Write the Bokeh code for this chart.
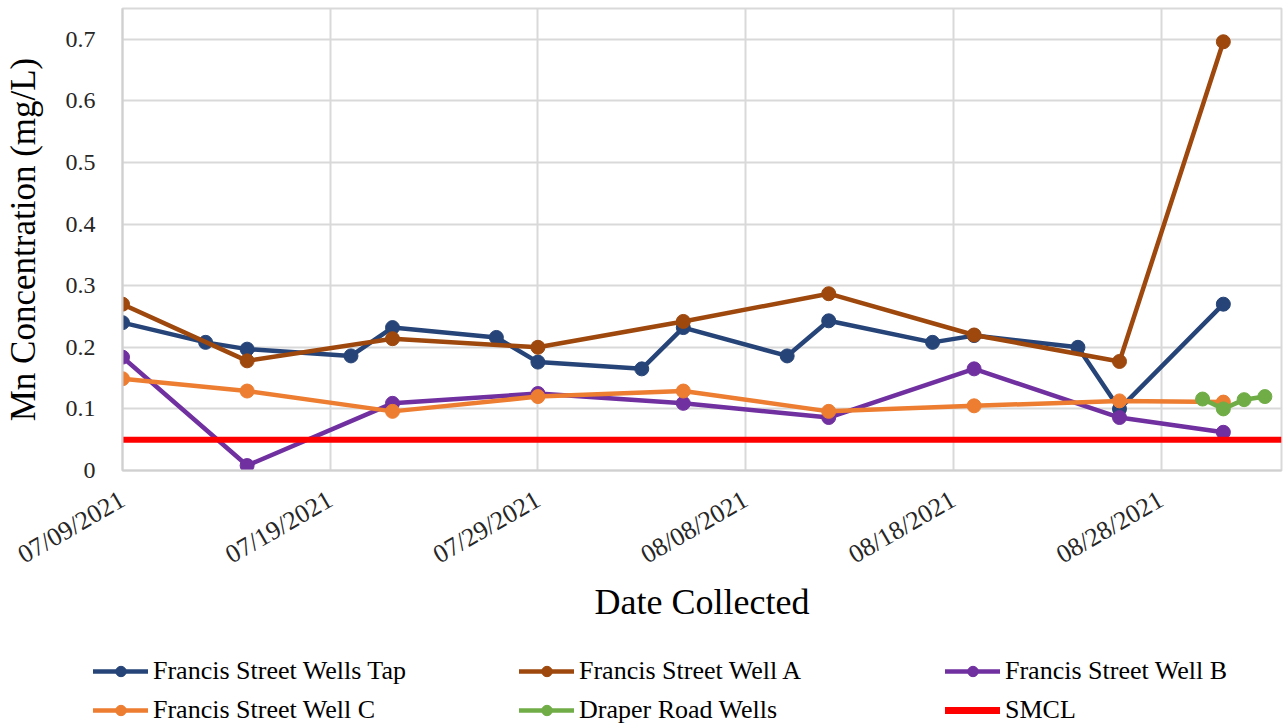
import math
from datetime import datetime, timedelta
import pandas as pd
from bokeh.plotting import figure
from bokeh.layouts import column, row
from bokeh.models import (Range1d, FixedTicker, DatetimeTickFormatter, Legend,
                          LegendItem, ColumnDataSource)
from bokeh.embed import file_html
from bokeh.resources import INLINE

# ---------------- data ----------------
tap_dates = ["2021-07-09", "2021-07-13", "2021-07-15", "2021-07-20", "2021-07-22",
             "2021-07-27", "2021-07-29", "2021-08-03", "2021-08-05", "2021-08-10",
             "2021-08-12", "2021-08-17", "2021-08-19", "2021-08-24", "2021-08-26",
             "2021-08-31"]
tap_vals = [0.240, 0.208, 0.197, 0.186, 0.232, 0.216, 0.176, 0.165, 0.232, 0.186,
            0.243, 0.208, 0.219, 0.200, 0.100, 0.270]

well_dates = ["2021-07-09", "2021-07-15", "2021-07-22", "2021-07-29", "2021-08-05",
              "2021-08-12", "2021-08-19", "2021-08-26", "2021-08-31"]
well_a_vals = [0.270, 0.178, 0.214, 0.200, 0.242, 0.287, 0.220, 0.177, 0.696]
well_b_vals = [0.184, 0.008, 0.109, 0.125, 0.109, 0.086, 0.165, 0.086, 0.062]
well_c_vals = [0.149, 0.129, 0.096, 0.120, 0.129, 0.096, 0.105, 0.113, 0.111]

draper_dates = ["2021-08-30", "2021-08-31", "2021-09-01", "2021-09-02"]
draper_vals = [0.116, 0.100, 0.115, 0.120]

smcl_value = 0.05

x_tick_dates = ["2021-07-09", "2021-07-19", "2021-07-29", "2021-08-08",
                "2021-08-18", "2021-08-28"]
y_ticks = [0, 0.1, 0.2, 0.3, 0.4, 0.5, 0.6, 0.7]

series_names = ["Francis Street Wells Tap", "Francis Street Well A",
                "Francis Street Well B", "Francis Street Well C",
                "Draper Road Wells", "SMCL"]
colors = ["#264478", "#9E480E", "#7030A0", "#ED7D31", "#70AD47", "#FF0000"]

FONT = "Liberation Serif"
W = 1283
H_MAIN = 635
H_LEG = 88

# ---------------- main figure ----------------
x_start = datetime(2021, 7, 9)
x_end = x_start + timedelta(days=55.8)

p = figure(width=W, height=H_MAIN, x_axis_type="datetime",
           x_range=Range1d(x_start, x_end), y_range=Range1d(0, 0.75),
           output_backend="svg", toolbar_location=None,
           min_border_left=122, min_border_right=2, min_border_top=8,
           min_border_bottom=H_MAIN - 470)

p.background_fill_color = "white"
p.border_fill_color = "white"
p.outline_line_color = "#D9D9D9"
p.outline_line_width = 2

series = [
    (tap_dates, tap_vals),
    (well_dates, well_a_vals),
    (well_dates, well_b_vals),
    (well_dates, well_c_vals),
    (draper_dates, draper_vals),
]

sources = []
for (d, v), col in zip(series, colors[:5]):
    src = ColumnDataSource(dict(x=pd.to_datetime(d), y=v))
    sources.append(src)
    p.line("x", "y", source=src, line_color=col, line_width=4.5,
           line_join="round", line_cap="round")
    p.scatter("x", "y", source=src, size=14, fill_color=col, line_color=col)

smcl_src = ColumnDataSource(dict(x=[x_start, x_end], y=[smcl_value, smcl_value]))
p.line("x", "y", source=smcl_src, line_color=colors[5], line_width=6)

# ---------------- axes ----------------
tick_ms = [int(pd.Timestamp(t).value // 10**6) for t in x_tick_dates]
p.xaxis.ticker = FixedTicker(ticks=tick_ms)
fmt = "%m/%d/%Y"
p.xaxis.formatter = DatetimeTickFormatter(days=fmt, months=fmt, years=fmt,
                                          hours=fmt, minutes=fmt, seconds=fmt,
                                          milliseconds=fmt, microseconds=fmt)
p.yaxis.ticker = FixedTicker(ticks=y_ticks)
p.yaxis.major_label_overrides = {0: "0"}

for ax in (p.xaxis, p.yaxis):
    ax.axis_line_color = "#D0D0D0"
    ax.axis_line_width = 2
    ax.major_tick_line_color = None
    ax.minor_tick_line_color = None
    ax.major_label_text_font = FONT
    ax.major_label_text_color = "#262626"
    ax.axis_label_text_font = FONT
    ax.axis_label_text_font_style = "normal"
    ax.axis_label_text_color = "#000000"

p.xaxis.major_label_orientation = math.radians(30)
p.xaxis.major_label_text_font_size = "26px"
p.xaxis.major_label_standoff = 21
p.xaxis.axis_label = "Date Collected"
p.xaxis.axis_label_text_font_size = "36px"
p.xaxis.axis_label_standoff = -3

p.yaxis.major_label_text_font_size = "24px"
p.yaxis.major_label_standoff = 21
p.yaxis.axis_label = "Mn Concentration (mg/L)"
p.yaxis.axis_label_text_font_size = "35px"
p.yaxis.axis_label_standoff = 20

p.xgrid.grid_line_color = "#D9D9D9"
p.xgrid.grid_line_width = 2
p.ygrid.grid_line_color = "#D9D9D9"
p.ygrid.grid_line_width = 2

# ---------------- legend (own strip below the chart) ----------------
# the legend strip reuses the series sources; its ranges keep the marks out of view
lg = figure(width=W, height=H_LEG, x_range=Range1d(0, 1), y_range=Range1d(0, 1),
            output_backend="svg", toolbar_location=None, min_border=0,
            x_axis_location=None, y_axis_location=None)
lg.grid.visible = False
lg.outline_line_color = None
lg.background_fill_color = "white"
lg.border_fill_color = "white"

items = []
for src, name, col in zip(sources, series_names[:5], colors[:5]):
    ln = lg.line("x", "y", source=src, line_color=col, line_width=4.5,
                 line_cap="round")
    sc = lg.scatter("x", "y", source=src, size=13, fill_color=col, line_color=col)
    items.append(LegendItem(label=name, renderers=[ln, sc]))
sm = lg.line("x", "y", source=smcl_src, line_color=colors[5], line_width=7,
             line_cap="round")
items.append(LegendItem(label=series_names[5], renderers=[sm]))

legend = Legend(items=items, orientation="horizontal", ncols=3,
                location=(93, -2), padding=0, margin=0, spacing=9,
                glyph_width=55, glyph_height=26, label_height=26,
                label_width=357, label_standoff=5,
                label_text_font=FONT, label_text_font_size="26px",
                label_text_color="#000000",
                border_line_color=None, background_fill_alpha=0)
lg.add_layout(legend, "center")

layout = column(p, row(lg, spacing=0), spacing=0)
open("out.html", "w").write(file_html(layout, INLINE))
